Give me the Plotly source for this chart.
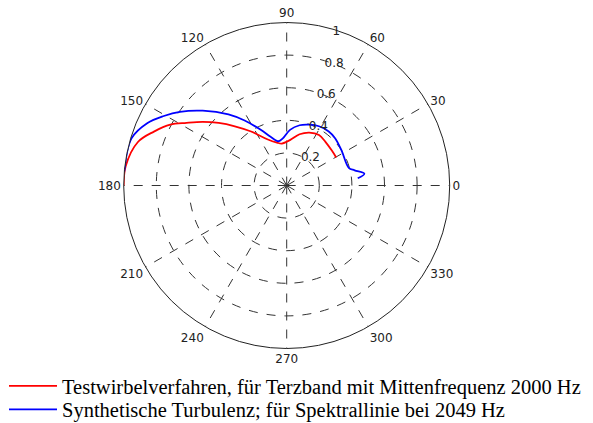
import plotly.graph_objects as go

# Red: Testwirbelverfahren (theta in degrees, r normalized)
red_theta = [180, 173.2, 163.7, 157.9, 152.4, 148, 142.9, 137.4, 131.2, 123.4,
             112.8, 102.8, 96.6, 85.9, 75.9, 66.9, 57.4, 48.4, 37.7, 29.5]
red_r = [1.0, 0.995, 0.951, 0.879, 0.806, 0.725, 0.647, 0.567, 0.483, 0.397,
         0.308, 0.270, 0.259, 0.279, 0.324, 0.353, 0.368, 0.358, 0.350, 0.349]

# Blue: Synthetische Turbulenz
blue_theta = [175, 163.1, 155.8, 150.5, 145.4, 138.3, 129.3, 122.9, 115, 108.3,
              100.5, 94.7, 86.6, 77.9, 69.6, 61.4, 52.1, 44.1, 32.4, 15.9,
              12.6, 8.6, 5.8]
blue_r = [1.0, 0.995, 0.936, 0.866, 0.796, 0.690, 0.564, 0.475, 0.377, 0.315,
          0.276, 0.290, 0.342, 0.378, 0.398, 0.414, 0.420, 0.415, 0.399, 0.396,
          0.427, 0.482, 0.438]

radial_ticks = [0.2, 0.4, 0.6, 0.8, 1.0]
radial_labels = ["0.2", "0.4", "0.6", "0.8", "1"]
angle_ticks = list(range(0, 360, 30))
angle_labels = [str(a) for a in angle_ticks]

W, H = 593, 423
cx, cy, R = 286.7, 185.5, 163

fig = go.Figure()
fig.add_trace(go.Scatterpolar(r=red_r, theta=red_theta, mode="lines",
                              line=dict(color="#ff0000", width=1.8, shape="spline"),
                              name="Testwirbelverfahren, für Terzband mit Mittenfrequenz 2000 Hz",
                              legend="legend"))
fig.add_trace(go.Scatterpolar(r=blue_r, theta=blue_theta, mode="lines",
                              line=dict(color="#0000ff", width=1.8, shape="spline"),
                              name="Synthetische Turbulenz; für Spektrallinie bei 2049 Hz",
                              legend="legend2"))

legend_font = dict(family="Liberation Serif", size=20.5, color="black")
common_leg = dict(xanchor="left", yanchor="middle", bgcolor="rgba(0,0,0,0)",
                  itemwidth=48, font=legend_font)

fig.update_layout(
    width=W, height=H,
    margin=dict(l=0, r=0, t=0, b=0, autoexpand=False),
    paper_bgcolor="white",
    plot_bgcolor="white",
    polar=dict(
        domain=dict(x=[(cx - R) / W, (cx + R) / W],
                    y=[(H - cy - R) / H, (H - cy + R) / H]),
        bgcolor="white",
        radialaxis=dict(range=[0, 1], tickvals=radial_ticks, ticktext=radial_labels,
                        angle=76, tickangle=76, showline=False, ticks="",
                        gridcolor="#333333", griddash="dash", gridwidth=1,
                        tickfont=dict(family="DejaVu Sans", size=12, color="#222")),
        angularaxis=dict(tickvals=angle_ticks, ticktext=angle_labels,
                         direction="counterclockwise", rotation=0,
                         showline=True, linecolor="#222", linewidth=1,
                         ticks="", gridcolor="#333333", griddash="dash", gridwidth=1,
                         tickfont=dict(family="DejaVu Sans", size=12, color="#222")),
    ),
    showlegend=True,
    legend=dict(x=4 / W, y=(H - 386) / H, **common_leg),
    legend2=dict(x=4 / W, y=(H - 409.5) / H, **common_leg),
)

fig.write_html("out.html")
